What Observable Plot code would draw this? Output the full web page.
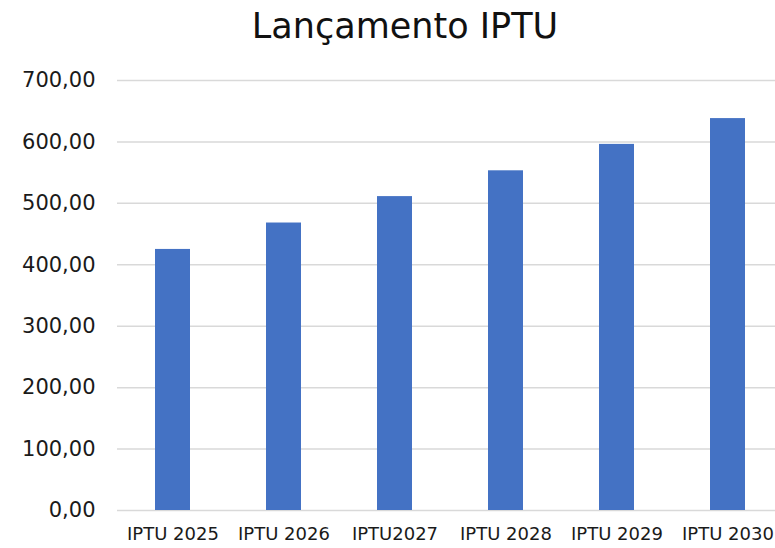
<!DOCTYPE html>
<html>
<head>
<meta charset="utf-8">
<script src="https://cdn.jsdelivr.net/npm/d3@7"></script>
<script src="https://cdn.jsdelivr.net/npm/@observablehq/plot@0.6"></script>
<style>
  html, body { margin: 0; padding: 0; background: #fff; }
  #title { height: 50px; width: 775px; text-align: center; font-family: "DejaVu Sans", sans-serif; font-size: 35px; line-height: 52px; color: #111; padding-left: 35px; box-sizing: border-box; }
</style>
</head>
<body>
<div id="title">Lançamento IPTU</div>
<div id="chart"></div>
<script>
const categories = ["IPTU 2025", "IPTU 2026", "IPTU2027", "IPTU 2028", "IPTU 2029", "IPTU 2030"];
const values = [425, 468, 511, 553, 596, 638];
const yTicks = [0, 100, 200, 300, 400, 500, 600, 700];

const data = categories.map((c, i) => ({category: c, value: values[i]}));
const fmt = v => d3.format(".2f")(v).replace(".", ",");

const chart = Plot.plot({
  width: 775,
  height: 498,
  marginLeft: 117,
  marginRight: 0,
  marginTop: 30,
  marginBottom: 38,
  style: {fontFamily: "DejaVu Sans, sans-serif", fontSize: "19px", color: "#1a1a1a", background: "#fff"},
  x: {domain: categories, range: [117, 783], paddingInner: 0.685, paddingOuter: 0.3425, label: null},
  y: {domain: [0, 700], label: null},
  marks: [
    Plot.ruleY(yTicks, {stroke: "#d9d9d9", strokeWidth: 1.5}),
    Plot.barY(data, {x: "category", y: "value", fill: "#4472c4"}),
    Plot.axisY({ticks: yTicks, tickFormat: fmt, tickSize: 0, tickPadding: 22, label: null, fontSize: 21}),
    Plot.axisX({tickSize: 0, tickPadding: 17, label: null, fontSize: 18})
  ]
});
document.getElementById("chart").appendChild(chart);
</script>
</body>
</html>
